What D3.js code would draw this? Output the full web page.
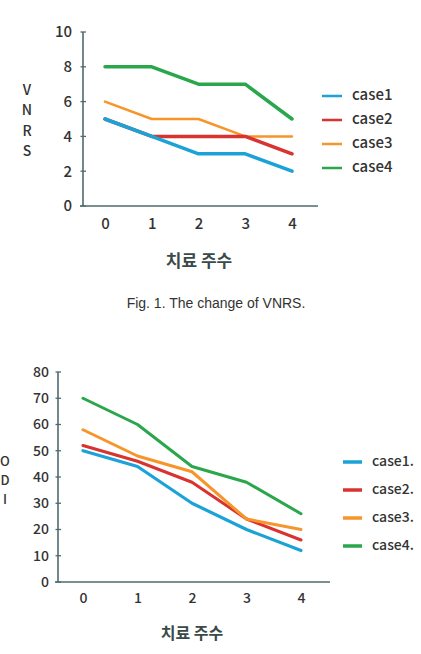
<!DOCTYPE html>
<html><head><meta charset="utf-8">
<script src="https://cdn.jsdelivr.net/npm/d3@7"></script>
<style>body{margin:0;background:#fff}svg{display:block}</style>
</head><body>
<svg id="c" width="421" height="654"></svg>
<script>
const weeks = [0, 1, 2, 3, 4];
const seriesNames1 = ["case1", "case2", "case3", "case4"];
const vnrsCase1 = [5, 4, 3, 3, 2];
const vnrsCase2 = [5, 4, 4, 4, 3];
const vnrsCase3 = [6, 5, 5, 4, 4];
const vnrsCase4 = [8, 8, 7, 7, 5];
const vnrsTicks = [0, 2, 4, 6, 8, 10];

const seriesNames2 = ["case1.", "case2.", "case3.", "case4."];
const odiCase1 = [50, 44, 30, 20, 12];
const odiCase2 = [52, 46, 38, 24, 16];
const odiCase3 = [58, 48, 42, 24, 20];
const odiCase4 = [70, 60, 44, 38, 26];
const odiTicks = [0, 10, 20, 30, 40, 50, 60, 70, 80];

const colors = ["#1ba3d8", "#d8332f", "#f7952a", "#2aa64b"];
const axisColor = "#4e6b6b";
const textColor = "#333";
const font = "'Noto Sans CJK KR', 'Noto Sans', sans-serif";

const svg = d3.select("#c");

function drawChart(o) {
  const g = svg.append("g");
  const x = d3.scalePoint().domain(weeks).range(o.xRange);
  const y = d3.scaleLinear().domain([0, o.yMax]).range(o.yRange);
  const yAx = g.append("g").attr("transform", `translate(${o.axisX},0)`)
    .call(d3.axisLeft(y).tickValues(o.ticks).tickSize(0).tickPadding(o.yPad));
  yAx.select(".domain").remove();
  yAx.selectAll("text").attr("fill", textColor).style("font-family", font)
    .style("font-size", o.fs + "px").style("font-weight", o.fw);
  g.selectAll(".ytk").data(o.ticks).enter().append("line")
    .attr("x1", o.axisX - 2.5).attr("x2", o.axisX + 3)
    .attr("y1", d => y(d)).attr("y2", d => y(d))
    .attr("stroke", axisColor).attr("stroke-width", 1.3);
  g.append("line").attr("x1", o.axisX).attr("x2", o.axisX)
    .attr("y1", y(o.yMax)).attr("y2", y(0)).attr("stroke", axisColor).attr("stroke-width", 1.6);
  g.append("line").attr("x1", o.axisX - 3).attr("x2", o.axisEnd)
    .attr("y1", y(0)).attr("y2", y(0)).attr("stroke", axisColor).attr("stroke-width", 1.6);
  const xAx = g.append("g").attr("transform", `translate(0,${y(0)})`)
    .call(d3.axisBottom(x).tickSize(0).tickPadding(o.xPad));
  xAx.select(".domain").remove();
  xAx.selectAll("text").attr("fill", textColor).style("font-family", font)
    .style("font-size", o.fs + "px").style("font-weight", o.fw);
  const line = d3.line().x((d, i) => x(weeks[i])).y(d => y(d));
  o.order.forEach(i => {
    g.append("path").datum(o.data[i]).attr("d", line)
      .attr("fill", "none").attr("stroke", colors[i])
      .attr("stroke-width", o.lw[i]).attr("stroke-linejoin", "round").attr("stroke-linecap", "round");
  });
  o.yTitle.split("").forEach((ch, i) => {
    g.append("text").attr("x", o.yTitleX).attr("y", o.yTitleY + i * o.yTitleStep)
      .attr("text-anchor", "middle").attr("dominant-baseline", "middle")
      .attr("fill", textColor).style("font-family", font).style("font-size", o.yfs + "px")
      .style("font-weight", o.fw).text(ch);
  });
  g.append("text").attr("x", o.xTitleX).attr("y", o.xTitleY)
    .attr("text-anchor", "middle").attr("dominant-baseline", "middle")
    .attr("fill", "#3a4a4a").style("font-family", font).style("font-size", o.xtfs + "px")
    .style("font-weight", 700).text("치료 주수");
  o.names.forEach((n, i) => {
    const ly = o.legY + i * o.legStep;
    g.append("line").attr("x1", o.legX).attr("x2", o.legX + o.legLen)
      .attr("y1", ly).attr("y2", ly).attr("stroke", colors[i]).attr("stroke-width", o.legW);
    g.append("text").attr("x", o.legX + o.legLen + 10).attr("y", ly)
      .attr("dominant-baseline", "middle").attr("fill", textColor)
      .style("font-family", font).style("font-size", o.lfs + "px").style("font-weight", o.fw).text(n);
  });
}

drawChart({
  xRange: [105, 292], yRange: [206, 32], yMax: 10, ticks: vnrsTicks,
  axisX: 83, axisEnd: 318, yPad: 11, xPad: 12, fs: 15, fw: 500, yfs: 14, lfs: 15, xtfs: 17,
  data: [vnrsCase1, vnrsCase2, vnrsCase3, vnrsCase4], order: [3, 2, 1, 0],
  lw: [3.5, 3.5, 2.5, 3.5],
  yTitle: "VNRS", yTitleX: 27, yTitleY: 91, yTitleStep: 20.5,
  xTitleX: 199, xTitleY: 262,
  names: seriesNames1, legX: 322, legLen: 20, legW: 2.5, legY: 96, legStep: 24
});

drawChart({
  xRange: [83, 301], yRange: [582, 372], yMax: 80, ticks: odiTicks,
  axisX: 58, axisEnd: 330, yPad: 9, xPad: 11, fs: 14, fw: 500, yfs: 13, lfs: 14, xtfs: 16,
  data: [odiCase1, odiCase2, odiCase3, odiCase4], order: [3, 0, 1, 2],
  lw: [3.2, 3, 3, 3],
  yTitle: "ODI", yTitleX: 5, yTitleY: 462, yTitleStep: 19,
  xTitleX: 192, xTitleY: 635,
  names: seriesNames2, legX: 343, legLen: 19, legW: 3.5, legY: 462, legStep: 28
});

svg.append("text").attr("x", 216).attr("y", 304).attr("text-anchor", "middle")
  .attr("dominant-baseline", "middle").attr("fill", "#333")
  .style("font-family", "'Liberation Sans', Arial, sans-serif").style("font-size", "14px")
  .text("Fig. 1. The change of VNRS.");
</script>
</body></html>
